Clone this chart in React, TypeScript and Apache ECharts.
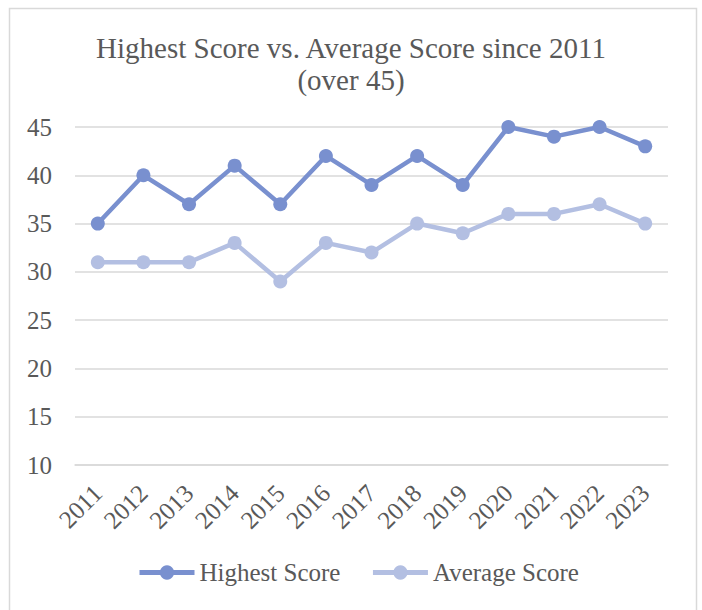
import React, { useEffect, useRef } from "react";
import * as echarts from "echarts";

const years = ["2011", "2012", "2013", "2014", "2015", "2016", "2017", "2018", "2019", "2020", "2021", "2022", "2023"];
const highestScore = [35, 40, 37, 41, 37, 42, 39, 42, 39, 45, 44, 45, 43];
const averageScore = [31, 31, 31, 33, 29, 33, 32, 35, 34, 36, 36, 37, 35];
const titleText = "Highest Score vs. Average Score since 2011\n(over 45)";

const FONT = "'Liberation Serif', 'DejaVu Serif', serif";
const TEXT = "#595959";
const GRID = "#d9d9d9";
const C1 = "#7990cf";
const C2 = "#b3bfe2";

export default function App() {
  const ref = useRef<HTMLDivElement>(null);
  useEffect(() => {
    if (!ref.current) return;
    const chart = echarts.init(ref.current, undefined, { renderer: "svg" });
    chart.setOption({
      animation: false,
      backgroundColor: "#ffffff",
      textStyle: { fontFamily: FONT },
      title: {
        text: titleText,
        left: "center",
        top: 32,
        padding: 0,
        textStyle: { fontFamily: FONT, fontSize: 29, fontWeight: "normal", color: TEXT, lineHeight: 32 },
      },
      graphic: [
        {
          type: "rect",
          shape: { x: 9.5, y: 8.5, width: 687, height: 620 },
          style: { fill: "none", stroke: GRID, lineWidth: 1.5 },
          silent: true,
        },
      ],
      legend: {
        bottom: 20,
        left: 132,
        itemWidth: 55,
        itemHeight: 18,
        itemGap: 30,
        lineStyle: { width: 5 },
        textStyle: { fontFamily: FONT, fontSize: 25, color: TEXT },
        data: ["Highest Score", "Average Score"],
      },
      grid: { left: 75, right: 34, top: 127, bottom: 145, containLabel: false },
      xAxis: {
        type: "category",
        data: years,
        boundaryGap: true,
        axisLine: { show: true, lineStyle: { color: GRID, width: 1.5 } },
        axisTick: { show: false },
        axisLabel: { rotate: 45, fontFamily: FONT, fontSize: 25, color: TEXT, margin: 24, interval: 0 },
      },
      yAxis: {
        type: "value",
        min: 10,
        max: 45,
        interval: 5,
        axisLine: { show: false },
        axisTick: { show: false },
        splitLine: { lineStyle: { color: GRID, width: 1.5 } },
        axisLabel: { fontFamily: FONT, fontSize: 25, color: TEXT, margin: 23 },
      },
      series: [
        {
          name: "Highest Score",
          type: "line",
          data: highestScore,
          symbol: "circle",
          symbolSize: 14,
          itemStyle: { color: C1 },
          lineStyle: { color: C1, width: 4.5 },
        },
        {
          name: "Average Score",
          type: "line",
          data: averageScore,
          symbol: "circle",
          symbolSize: 14,
          itemStyle: { color: C2 },
          lineStyle: { color: C2, width: 4.5 },
        },
      ],
    });
    return () => chart.dispose();
  }, []);
  return <div ref={ref} style={{ position: "fixed", left: 0, top: 0, width: 702, height: 610 }} />;
}
